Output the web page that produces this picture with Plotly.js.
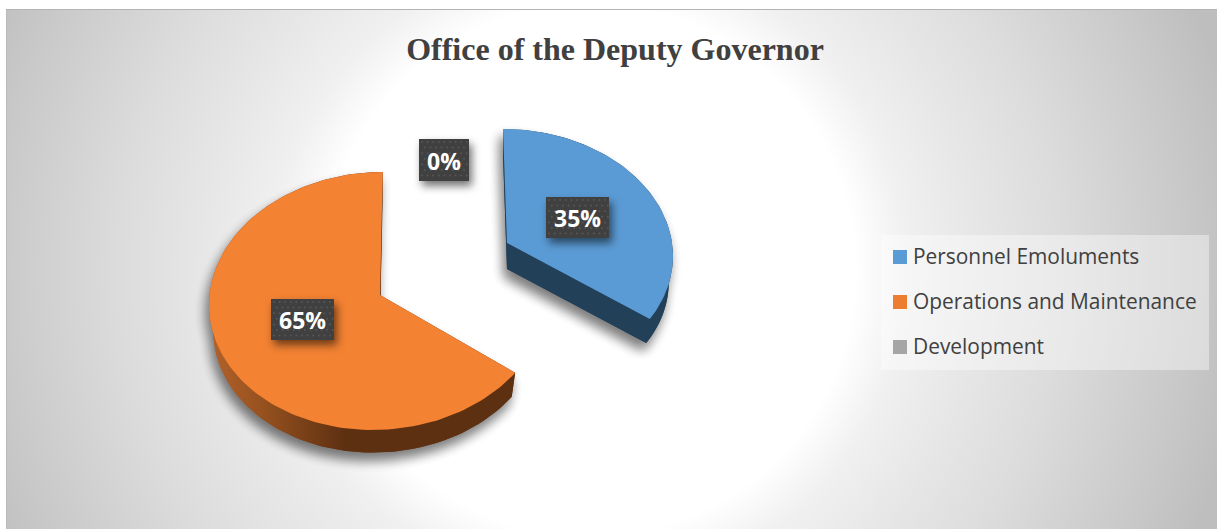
<!DOCTYPE html>
<html>
<head>
<meta charset="utf-8">
<script src="https://cdn.plot.ly/plotly-3.0.1.min.js"></script>
<style>
html,body{margin:0;padding:0;background:#fff;width:1217px;height:529px;overflow:hidden}
#bg{position:absolute;left:6px;top:9px;width:1211px;height:520px;border-top:1px solid #b4b4b4;border-left:1px solid #bababa;box-sizing:border-box;
background:radial-gradient(circle 660px at 583px 260px,#ffffff 0,#ffffff 265px,#f0f0f0 318px,#e6e6e6 391px,#dcdcdc 470px,#c8c8c8 600px,#bebebe 660px)}
#chart{position:absolute;left:0;top:0;width:1217px;height:529px}
</style>
</head>
<body>
<div id="bg"></div>
<div id="chart"></div>
<script>
// ---- data ----
const chartTitle = "Office of the Deputy Governor";
const categories = ["Personnel Emoluments", "Operations and Maintenance", "Development"];
const shares = [35, 65, 0];
const colors = ["#5b9bd5", "#f38233", "#a5a5a5"];
const legendColors = ["#5b9bd5", "#ed7d31", "#a5a5a5"];

// ---- geometry of the drawing (pixel axes) ----
const W = 1217, H = 529;
const wedgeGeom = [
  {x:507, ax:507, y:243, R:165, S:123.2, k:-0.0805, a:4.3, depth:26},
  {x:378, ax:380, y:295, R:168.5, S:128.7, k:-0.0466, a:-5, depth:26}
];
const sideColors = ["#234059", "#5e3012"];
const labelBoxes = [
  {x:546, y:197, w:63, h:41},
  {x:271, y:299, w:63, h:41},
  {x:419, y:139, w:50, h:42}
];
const legendY = [257, 302, 347];

const total = shares.reduce((a,b)=>a+b,0);
function pt(g, frac, base){
  const th = 2*Math.PI*frac, u = Math.sin(th), v = -Math.cos(th), d = 1+g.k*v;
  const sc = base ? 0.975 : 1;
  return [g.x + sc*(g.R*u+g.a*v)/d, g.y + sc*g.S*v/d + (base ? g.depth : 0)];
}
function arc(g, f0, f1, base){
  const n = Math.max(2, Math.round((f1-f0)*220)), out = [];
  for(let i=0;i<=n;i++) out.push(pt(g, f0+(f1-f0)*i/n, base));
  return out;
}
function apex(g, base){ return [g.ax, g.y+(base?g.depth:0)]; }
function poly(pts, extra){
  const xs = pts.map(p=>p[0]).concat(pts[0][0]), ys = pts.map(p=>p[1]).concat(pts[0][1]);
  return Object.assign({type:"scatter", x:xs, y:ys, mode:"lines", line:{width:0}, fill:"toself",
    hoverinfo:"skip", showlegend:false}, extra);
}

const shadowTraces = [], bodyTraces = [];
let acc = 0;
shares.forEach((s,i)=>{
  const f0 = acc/total, f1 = (acc+s)/total; acc += s;
  if(s===0) return;
  const g = wedgeGeom[i];
  const top = [apex(g,false)].concat(arc(g,f0,f1,false));
  const bot = [apex(g,true)].concat(arc(g,f0,f1,true));
  const band = arc(g,f0,f1,false).concat(arc(g,f0,f1,true).reverse());
  const wallA = [apex(g,false), pt(g,f0,false), pt(g,f0,true), apex(g,true)];
  const wallB = [apex(g,false), pt(g,f1,false), pt(g,f1,true), apex(g,true)];
  const grad = i===1 ? {fillgradient:{type:"horizontal", start:215, stop:345,
      colorscale:[[0,"#b0602a"],[0.35,"#97521f"],[1,"#5e3012"]]}} : {fillcolor:sideColors[i]};
  [top,bot,band,wallA,wallB].forEach(p=>shadowTraces.push(poly(p,{fillcolor:"#000000"})));
  bodyTraces.push(poly(bot,grad), poly(band,grad));
  bodyTraces.push(poly(wallA,{fillcolor:sideColors[i]}), poly(wallB,{fillcolor:sideColors[i]}));
  bodyTraces.push(poly(top,{fillcolor:colors[i]}));
});

const boxTraces = labelBoxes.map(b=>poly(
  [[b.x,b.y],[b.x+b.w,b.y],[b.x+b.w,b.y+b.h],[b.x,b.y+b.h]],{fillcolor:"#404040"}));
const dotX = [], dotY = [];
labelBoxes.forEach(b=>{
  let row = 0;
  for(let yy=b.y+3; yy<b.y+b.h-1; yy+=5.6, row++){
    for(let xx=b.x+3+(row%2?2.8:0); xx<b.x+b.w-1; xx+=5.6){ dotX.push(xx); dotY.push(yy); }
  }
});
const dotTrace = {type:"scatter", x:dotX, y:dotY, mode:"markers", hoverinfo:"skip", showlegend:false,
  marker:{size:2, color:"#565656", symbol:"circle"}};

const legendTraces = categories.map((c,i)=>({type:"scatter", name:c, x:[900], y:[legendY[i]], mode:"markers",
  hoverinfo:"skip", showlegend:false, marker:{symbol:"square", size:14, color:legendColors[i]}}));

const pctAnn = shares.map((s,i)=>({x:labelBoxes[i].x+labelBoxes[i].w/2, y:labelBoxes[i].y+labelBoxes[i].h/2+0.5,
  xref:"x", yref:"y", text:"<b>"+Math.round(s/total*100)+"%</b>", showarrow:false,
  font:{family:"Open Sans",size:23,color:"#ffffff"}}));
const legAnn = categories.map((c,i)=>({x:911, y:legendY[i]-1, xref:"x", yref:"y", xanchor:"left", yanchor:"middle",
  text:c, showarrow:false, font:{family:"Open Sans",size:20.9,color:"#404040"}}));

const nShadow = shadowTraces.length, nBody = bodyTraces.length, nBox = boxTraces.length;
const data = shadowTraces.concat(bodyTraces, boxTraces, [dotTrace], legendTraces);

const layout = {
  width:W, height:H, margin:{l:0,r:0,t:0,b:0}, paper_bgcolor:"rgba(0,0,0,0)", plot_bgcolor:"rgba(0,0,0,0)",
  showlegend:false, hovermode:false,
  title:{text:"<b>"+chartTitle+"</b>", x:615/W, xanchor:"center", y:1-49/H, yanchor:"middle",
    font:{family:"Liberation Serif",size:32,color:"#404040"}},
  xaxis:{range:[0,W], visible:false, fixedrange:true},
  yaxis:{range:[H,0], visible:false, fixedrange:true},
  shapes:[{type:"rect", xref:"x", yref:"y", x0:881, x1:1209, y0:235, y1:370, layer:"below",
    fillcolor:"rgba(255,255,255,0.4)", line:{width:0}}],
  annotations:pctAnn.concat(legAnn)
};
Plotly.newPlot("chart", data, layout, {displayModeBar:false, staticPlot:true}).then(()=>{
  const tr = document.querySelectorAll(".scatterlayer .trace");
  for(let i=0;i<nShadow;i++){
    tr[i].style.filter = "blur(6px)";
    tr[i].style.transform = "translate(-3px,8px)";
    tr[i].style.opacity = "0.3";
  }
  for(let i=nShadow+nBody;i<nShadow+nBody+nBox;i++){
    tr[i].style.filter = "drop-shadow(3px 5px 4px rgba(0,0,0,0.55))";
  }
});
</script>
</body>
</html>
